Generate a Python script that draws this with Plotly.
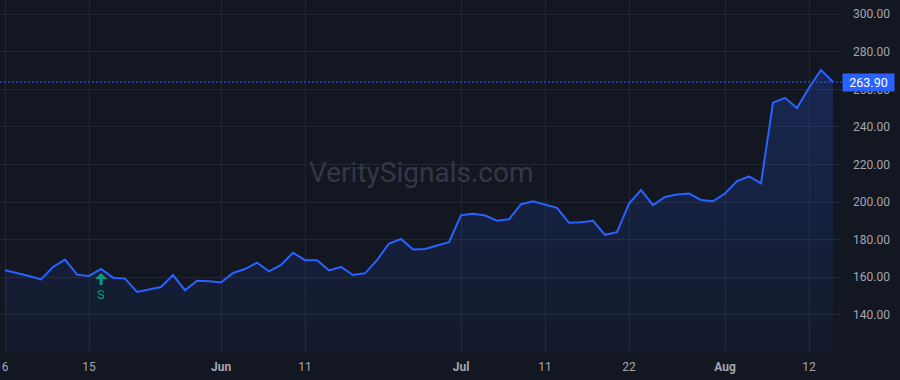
import plotly.graph_objects as go

# ---- data ----
price = [163.6, 162.2, 160.6, 158.8, 165.4, 169.3, 161.3, 160.6, 164.3, 159.7,
         159.2, 152.1, 153.4, 154.7, 161.1, 153.0, 158.1, 157.8, 157.1, 162.2,
         164.3, 167.7, 163.1, 166.5, 173.0, 169.0, 169.0, 163.6, 165.4, 161.1,
         162.0, 169.0, 177.9, 180.3, 174.7, 175.0, 176.8, 178.6, 193.0, 193.7,
         192.8, 190.0, 190.8, 198.8, 200.4, 198.7, 196.9, 188.9, 189.2, 190.0,
         182.5, 183.9, 199.2, 206.3, 198.3, 202.7, 204.0, 204.5, 201.1, 200.4,
         204.5, 211.1, 213.6, 209.9, 252.9, 255.5, 250.0, 260.9, 270.3, 263.9]
bar_index = list(range(len(price)))

x_tick_pos = [0, 7, 18, 25, 38, 45, 52, 60, 67]
x_tick_text = ["6", "15", "<b>Jun</b>", "11", "<b>Jul</b>", "11", "22", "<b>Aug</b>", "12"]
y_tick_vals = [140, 160, 180, 200, 220, 240, 260, 280, 300]

signal_index = [8]
signal_text = ["S"]

last_price = price[-1]
watermark = "VeritySignals.com"

# ---- styles ----
BG = "#131722"
GRID = "#232733"
BLUE = "#2962FF"
GREEN = "#089981"
TXT = "#a3a6af"
FONT = "Roboto, Liberation Sans, sans-serif"

fig = go.Figure()
fig.add_trace(go.Scatter(
    x=bar_index, y=price, mode="lines",
    line=dict(color=BLUE, width=2),
    fill="tozeroy",
    fillgradient=dict(type="vertical", start=120.1, stop=307.6,
                      colorscale=[[0, "rgba(41,98,255,0.04)"], [1, "rgba(41,98,255,0.27)"]]),
    hoverinfo="skip", showlegend=False,
))

# last price dotted line
fig.add_shape(type="line", xref="paper", x0=0, x1=1, yref="y", y0=last_price, y1=last_price,
              line=dict(color=BLUE, width=1, dash="2px,2px"))

# last price label
fig.add_annotation(xref="paper", x=1, xanchor="left", yref="y", y=last_price, yanchor="middle",
                   text=f"{last_price:.2f}", showarrow=False,
                   font=dict(family=FONT, size=12.5, color="white"),
                   bgcolor=BLUE, width=47, height=13, borderpad=2, align="center")

# signals
for i, t in zip(signal_index, signal_text):
    fig.add_annotation(x=bar_index[i], y=price[i], xref="x", yref="y",
                       text=t, showarrow=True, ax=0, ay=25, standoff=4,
                       arrowhead=1, arrowsize=0.67, arrowwidth=3, arrowcolor=GREEN,
                       font=dict(family=FONT, size=13, color=GREEN))

# watermark
fig.add_annotation(xref="paper", yref="paper", x=0.5, y=0.51, text=watermark, showarrow=False,
                   font=dict(family=FONT, size=28, color="#343845"))

fig.update_layout(
    width=900, height=380,
    margin=dict(l=0, r=58, t=0, b=28),
    paper_bgcolor=BG, plot_bgcolor=BG,
    font=dict(family=FONT, size=12, color=TXT),
    xaxis=dict(range=[-0.42, 69.75], tickvals=x_tick_pos, ticktext=x_tick_text,
               showgrid=True, gridcolor=GRID, gridwidth=1, zeroline=False, showline=False,
               ticks="", ticklabelstandoff=6, fixedrange=True),
    yaxis=dict(range=[120.1, 307.6], side="right", tickvals=y_tick_vals, tickformat=".2f",
               showgrid=True, gridcolor=GRID, gridwidth=1, zeroline=False, showline=False,
               ticks="", ticklabelstandoff=10, fixedrange=True),
)

fig.write_html("out.html")
